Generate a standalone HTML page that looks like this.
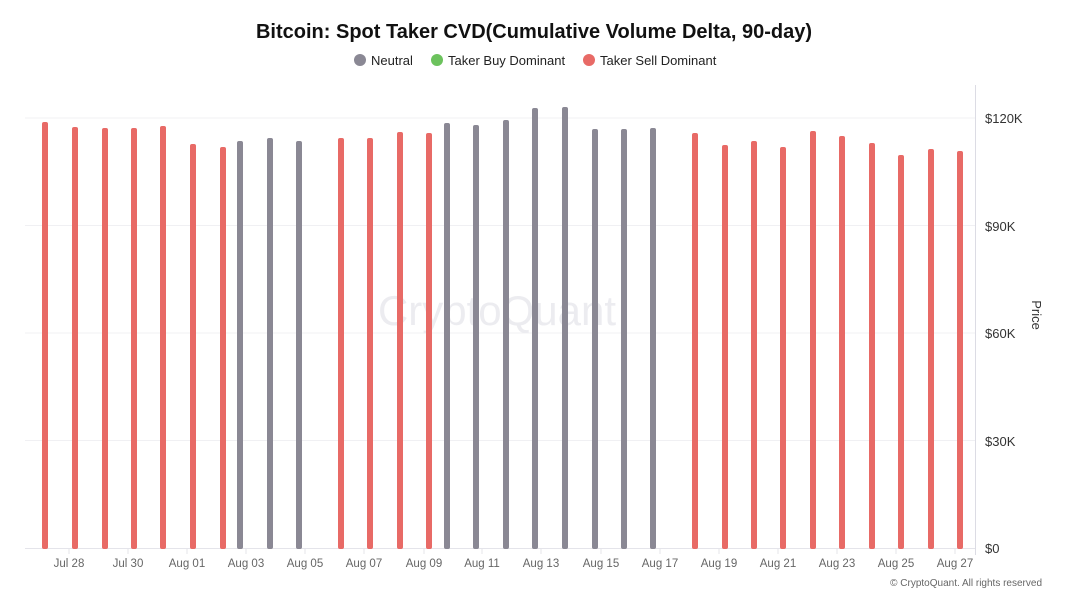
<!DOCTYPE html><html><head><style>body{margin:0;background:#fff;font-family:"Liberation Sans",sans-serif}</style></head><body>
<svg width="1068" height="601" xmlns="http://www.w3.org/2000/svg" font-family="Liberation Sans, sans-serif">
<text x="534" y="38" text-anchor="middle" font-size="20" font-weight="bold" fill="#111">Bitcoin: Spot Taker CVD(Cumulative Volume Delta, 90-day)</text>
<g font-size="13" fill="#222">
<circle cx="360" cy="60" r="6" fill="#8a8894"/><text x="371" y="65">Neutral</text>
<circle cx="437" cy="60" r="6" fill="#6cc25d"/><text x="448" y="65">Taker Buy Dominant</text>
<circle cx="589" cy="60" r="6" fill="#e86a66"/><text x="600" y="65">Taker Sell Dominant</text>
</g>
<g stroke="#f0f0f3" stroke-width="1"><line x1="25" x2="975" y1="118" y2="118"/><line x1="25" x2="975" y1="225.5" y2="225.5"/><line x1="25" x2="975" y1="333" y2="333"/><line x1="25" x2="975" y1="440.5" y2="440.5"/></g>
<line x1="25" x2="975" y1="548.5" y2="548.5" stroke="#e4e4ea"/>
<g stroke="#e4e4ea"><line x1="69" x2="69" y1="548" y2="554"/><line x1="128" x2="128" y1="548" y2="554"/><line x1="187" x2="187" y1="548" y2="554"/><line x1="246" x2="246" y1="548" y2="554"/><line x1="305" x2="305" y1="548" y2="554"/><line x1="364" x2="364" y1="548" y2="554"/><line x1="424" x2="424" y1="548" y2="554"/><line x1="482" x2="482" y1="548" y2="554"/><line x1="541" x2="541" y1="548" y2="554"/><line x1="601" x2="601" y1="548" y2="554"/><line x1="660" x2="660" y1="548" y2="554"/><line x1="719" x2="719" y1="548" y2="554"/><line x1="778" x2="778" y1="548" y2="554"/><line x1="837" x2="837" y1="548" y2="554"/><line x1="896" x2="896" y1="548" y2="554"/><line x1="955" x2="955" y1="548" y2="554"/></g>
<line x1="975.5" x2="975.5" y1="85" y2="555" stroke="#dcdce4"/>
<text x="497" y="325" text-anchor="middle" font-size="42" fill="#ececf0">CryptoQuant</text>
<g font-size="13" fill="#333"><text x="985" y="123">$120K</text><text x="985" y="231">$90K</text><text x="985" y="338">$60K</text><text x="985" y="446">$30K</text><text x="985" y="553">$0</text></g>
<text x="1032" y="315" font-size="13" fill="#333" transform="rotate(90 1032 315)" text-anchor="middle">Price</text>
<g font-size="11.5" fill="#666" text-anchor="middle">
<text x="69" y="567">Jul 28</text><text x="128" y="567">Jul 30</text><text x="187" y="567">Aug 01</text><text x="246" y="567">Aug 03</text><text x="305" y="567">Aug 05</text><text x="364" y="567">Aug 07</text><text x="424" y="567">Aug 09</text><text x="482" y="567">Aug 11</text><text x="541" y="567">Aug 13</text><text x="601" y="567">Aug 15</text><text x="660" y="567">Aug 17</text><text x="719" y="567">Aug 19</text><text x="778" y="567">Aug 21</text><text x="837" y="567">Aug 23</text><text x="896" y="567">Aug 25</text><text x="955" y="567">Aug 27</text></g>
<text x="1042" y="586" font-size="10" fill="#666" text-anchor="end">© CryptoQuant. All rights reserved</text>
<g fill="#e86a66">
<rect x="42" y="122" width="6" height="427" rx="2"/><rect x="72" y="127" width="6" height="422" rx="2"/><rect x="102" y="128" width="6" height="421" rx="2"/><rect x="131" y="128" width="6" height="421" rx="2"/><rect x="160" y="126" width="6" height="423" rx="2"/><rect x="190" y="144" width="6" height="405" rx="2"/><rect x="220" y="147" width="6" height="402" rx="2"/>
<rect x="338" y="138" width="6" height="411" rx="2"/><rect x="367" y="138" width="6" height="411" rx="2"/><rect x="397" y="132" width="6" height="417" rx="2"/><rect x="426" y="133" width="6" height="416" rx="2"/>
<rect x="692" y="133" width="6" height="416" rx="2"/><rect x="722" y="145" width="6" height="404" rx="2"/><rect x="751" y="141" width="6" height="408" rx="2"/><rect x="780" y="147" width="6" height="402" rx="2"/><rect x="810" y="131" width="6" height="418" rx="2"/><rect x="839" y="136" width="6" height="413" rx="2"/><rect x="869" y="143" width="6" height="406" rx="2"/><rect x="898" y="155" width="6" height="394" rx="2"/><rect x="928" y="149" width="6" height="400" rx="2"/><rect x="957" y="151" width="6" height="398" rx="2"/>
</g>
<g fill="#8a8894">
<rect x="237" y="141" width="6" height="408" rx="2"/><rect x="267" y="138" width="6" height="411" rx="2"/><rect x="296" y="141" width="6" height="408" rx="2"/>
<rect x="444" y="123" width="6" height="426" rx="2"/><rect x="473" y="125" width="6" height="424" rx="2"/><rect x="503" y="120" width="6" height="429" rx="2"/><rect x="532" y="108" width="6" height="441" rx="2"/><rect x="562" y="107" width="6" height="442" rx="2"/><rect x="592" y="129" width="6" height="420" rx="2"/><rect x="621" y="129" width="6" height="420" rx="2"/><rect x="650" y="128" width="6" height="421" rx="2"/>
</g>
</svg></body></html>
